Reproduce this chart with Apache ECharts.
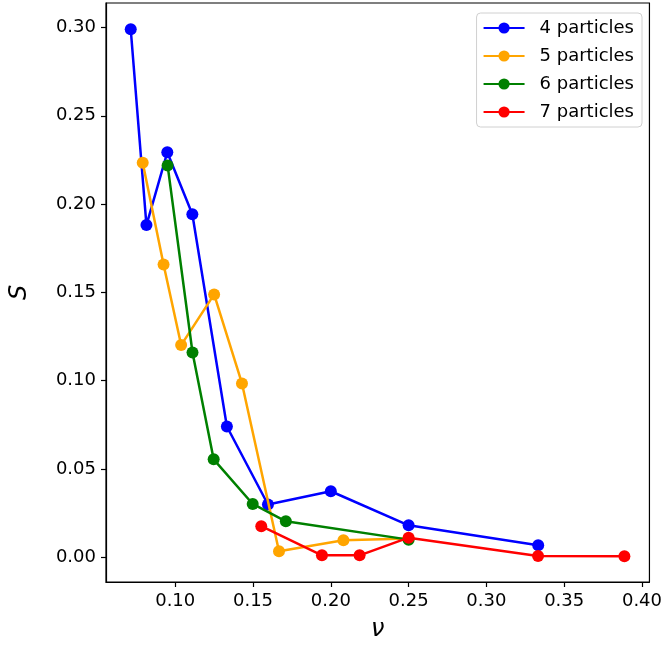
<!DOCTYPE html>
<html>
<head>
<meta charset="utf-8">
<script src="https://cdn.jsdelivr.net/npm/echarts@6/dist/echarts.min.js"></script>
<style>
    html, body { margin: 0; padding: 0; background: #fff; }
    #main { width: 665px; height: 648px; }
</style>
</head>
<body>
<div id="main"></div>
<script>
    // data
    var nu4 = [0.0714, 0.0815, 0.0949, 0.1110, 0.1332, 0.1596, 0.2000, 0.2500, 0.3333];
    var s4  = [0.2990, 0.1881, 0.2293, 0.1942, 0.0740, 0.0298, 0.0373, 0.0180, 0.0067];

    var nu5 = [0.0791, 0.0925, 0.1038, 0.1250, 0.1429, 0.1667, 0.2081, 0.2500];
    var s5  = [0.2234, 0.1658, 0.1201, 0.1488, 0.0984, 0.0033, 0.0095, 0.0105];

    var nu6 = [0.0951, 0.1111, 0.1247, 0.1498, 0.1711, 0.2500];
    var s6  = [0.2219, 0.1159, 0.0554, 0.0301, 0.0203, 0.0099];

    var nu7 = [0.1553, 0.1943, 0.2185, 0.2500, 0.3332, 0.3887];
    var s7  = [0.0175, 0.0010, 0.0010, 0.0110, 0.0006, 0.0005];

    var names = ['4 particles', '5 particles', '6 particles', '7 particles'];
    var colors = ['#0000ff', '#ffa500', '#008000', '#ff0000'];
    var xTicks = [0.10, 0.15, 0.20, 0.25, 0.30, 0.35, 0.40];
    var yTicks = [0.00, 0.05, 0.10, 0.15, 0.20, 0.25, 0.30];

    function pairs(xs, ys) {
        var out = [];
        for (var i = 0; i < xs.length; i++) out.push([xs[i], ys[i]]);
        return out;
    }

    var font = 'DejaVu Sans';
    var allData = [pairs(nu4, s4), pairs(nu5, s5), pairs(nu6, s6), pairs(nu7, s7)];
    var series = [];
    for (var k = 0; k < names.length; k++) {
        series.push({
            name: names[k],
            type: 'line',
            data: allData[k],
            symbol: 'circle',
            symbolSize: 12,
            color: colors[k],
            lineStyle: { width: 2.5, color: colors[k] },
            itemStyle: { color: colors[k] },
            z: 2 + k,
            animation: false
        });
    }

    var myChart = echarts.init(document.getElementById('main'));
    var option = {
        backgroundColor: '#fff',
        grid: {
            left: 105, right: 13, top: 3, bottom: 66,
            show: true, borderColor: '#000', borderWidth: 1.2
        },
        legend: {
            data: names,
            orient: 'vertical',
            right: 23,
            top: 13,
            itemWidth: 41,
            itemHeight: 14,
            itemGap: 10,
            padding: [6, 8, 6, 6],
            borderColor: '#d0d0d0',
            borderWidth: 1,
            borderRadius: 4,
            textStyle: { fontFamily: font, fontSize: 18, color: '#000', padding: [0, 0, 0, 10] }
        },
        xAxis: {
            type: 'value',
            min: 0.0555,
            max: 0.4048,
            name: 'ν',
            nameLocation: 'middle',
            nameGap: 36,
            nameTextStyle: { fontFamily: font, fontStyle: 'italic', fontSize: 24, color: '#000' },
            axisLine: { onZero: false, lineStyle: { color: '#000', width: 1.2 } },
            axisTick: { inside: false, length: 5, customValues: xTicks, lineStyle: { color: '#000', width: 1.2 } },
            axisLabel: {
                customValues: xTicks, margin: 10, color: '#000', fontFamily: font, fontSize: 18,
                formatter: function (v) { return v.toFixed(2); }
            },
            splitLine: { show: false }
        },
        yAxis: {
            type: 'value',
            min: -0.0141,
            max: 0.3139,
            name: 'S',
            nameLocation: 'middle',
            nameGap: 74,
            nameRotate: 90,
            nameTextStyle: { fontFamily: font, fontStyle: 'italic', fontSize: 24, color: '#000' },
            axisLine: { show: true, onZero: false, lineStyle: { color: '#000', width: 1.2 } },
            axisTick: { show: true, inside: false, length: 5, customValues: yTicks, lineStyle: { color: '#000', width: 1.2 } },
            axisLabel: {
                customValues: yTicks, margin: 10, color: '#000', fontFamily: font, fontSize: 18,
                formatter: function (v) { return v.toFixed(2); }
            },
            splitLine: { show: false }
        },
        series: series
    };
    myChart.setOption(option);
</script>
</body>
</html>
